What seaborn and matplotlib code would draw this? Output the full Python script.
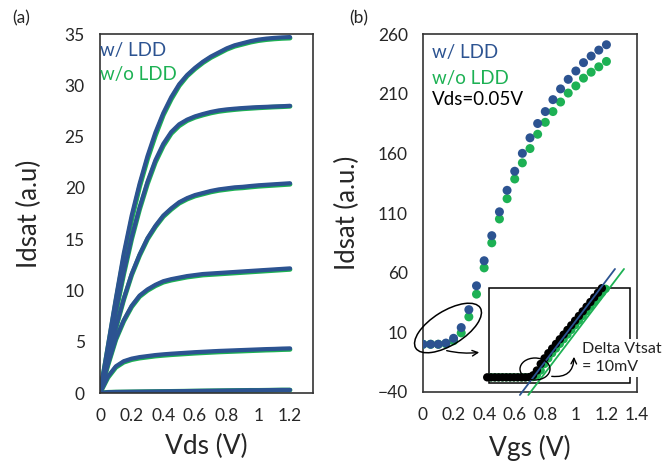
import numpy as np
import pandas as pd
import matplotlib
matplotlib.use("Agg")
import matplotlib.pyplot as plt
import seaborn as sns
from matplotlib.patches import Ellipse, Rectangle
from matplotlib.transforms import IdentityTransform

# ---------------- data: panel (a) ----------------
vds = [0, 0.05, 0.1, 0.15, 0.2, 0.25, 0.3, 0.35, 0.4, 0.45, 0.5, 0.55, 0.6,
       0.65, 0.7, 0.75, 0.8, 0.85, 0.9, 0.95, 1.0, 1.05, 1.1, 1.15, 1.2]

ldd_1 = [0, 4.6, 9.2, 13.6, 17.3, 20.4, 23.1, 25.4, 27.3, 28.85, 30.1, 31.0, 31.7,
         32.3, 32.8, 33.2, 33.6, 33.9, 34.1, 34.3, 34.45, 34.55, 34.62, 34.67, 34.7]
ldd_2 = [0, 4.0, 8.0, 11.8, 15.2, 18.1, 20.6, 22.7, 24.3, 25.45, 26.2, 26.65, 26.97,
         27.2, 27.4, 27.55, 27.65, 27.72, 27.78, 27.83, 27.87, 27.9, 27.93, 27.96, 28.0]
ldd_3 = [0, 3.3, 6.4, 9.2, 11.6, 13.5, 15.1, 16.3, 17.3, 18.0, 18.6, 19.0, 19.3,
         19.5, 19.7, 19.85, 19.95, 20.05, 20.1, 20.18, 20.25, 20.3, 20.35, 20.4, 20.45]
ldd_4 = [0, 2.8, 5.3, 7.1, 8.5, 9.5, 10.1, 10.55, 10.9, 11.1, 11.25, 11.4, 11.5,
         11.6, 11.65, 11.7, 11.75, 11.8, 11.85, 11.9, 11.95, 12.0, 12.05, 12.1, 12.15]
ldd_5 = [0, 1.6, 2.6, 3.1, 3.35, 3.5, 3.6, 3.7, 3.77, 3.83, 3.88, 3.93, 3.98,
         4.02, 4.06, 4.1, 4.13, 4.16, 4.19, 4.22, 4.25, 4.28, 4.3, 4.33, 4.35]
ldd_6 = [0, 0.08, 0.1, 0.11, 0.12, 0.13, 0.14, 0.15, 0.16, 0.17, 0.18, 0.19, 0.2,
         0.21, 0.22, 0.23, 0.24, 0.25, 0.26, 0.27, 0.27, 0.28, 0.29, 0.3, 0.3]

noldd_1 = [0, 4.4, 8.9, 13.2, 16.9, 20.1, 22.8, 25.1, 27.1, 28.65, 29.95, 30.9, 31.6,
           32.2, 32.7, 33.1, 33.5, 33.8, 34.0, 34.2, 34.35, 34.45, 34.52, 34.57, 34.6]
noldd_2 = [0, 3.9, 7.8, 11.6, 15.0, 17.9, 20.4, 22.5, 24.1, 25.3, 26.05, 26.55, 26.87,
           27.1, 27.3, 27.45, 27.55, 27.63, 27.7, 27.75, 27.8, 27.84, 27.88, 27.91, 27.95]
noldd_3 = [0, 3.2, 6.3, 9.1, 11.5, 13.4, 15.0, 16.2, 17.2, 17.9, 18.5, 18.9, 19.2,
           19.4, 19.6, 19.75, 19.85, 19.95, 20.0, 20.08, 20.15, 20.2, 20.25, 20.3, 20.35]
noldd_4 = [0, 2.7, 5.2, 7.0, 8.4, 9.4, 10.0, 10.45, 10.8, 11.0, 11.15, 11.3, 11.4,
           11.5, 11.55, 11.6, 11.65, 11.7, 11.75, 11.8, 11.85, 11.9, 11.95, 12.0, 12.05]
noldd_5 = [0, 1.5, 2.5, 3.0, 3.25, 3.4, 3.5, 3.6, 3.67, 3.73, 3.78, 3.83, 3.88,
           3.92, 3.96, 4.0, 4.03, 4.06, 4.09, 4.12, 4.15, 4.18, 4.2, 4.23, 4.25]
noldd_6 = [0, 0.07, 0.09, 0.1, 0.11, 0.12, 0.13, 0.14, 0.15, 0.16, 0.17, 0.18, 0.19,
           0.2, 0.21, 0.22, 0.23, 0.24, 0.25, 0.26, 0.26, 0.27, 0.28, 0.29, 0.29]

# ---------------- data: panel (b) ----------------
vgs = [0, 0.05, 0.1, 0.15, 0.2, 0.25, 0.3, 0.35, 0.4, 0.45, 0.5, 0.55, 0.6,
       0.65, 0.7, 0.75, 0.8, 0.85, 0.9, 0.95, 1.0, 1.05, 1.1, 1.15, 1.2]
id_ldd = [0, 0, 0, 1, 5, 14, 29, 49, 70, 91, 111, 129, 145, 160, 173, 185,
          195, 205, 214, 222, 229, 236, 241.5, 246.5, 251]
id_noldd = [0, 0, 0, 0.5, 3, 9.5, 23, 42, 64, 85, 105, 122, 138.5, 152, 164,
            176, 186, 195, 203, 210.5, 216.5, 223, 228, 232.5, 237]

# inset (drawn in the coordinates of panel (b))
inset_vgs = [0.42, 0.445, 0.47, 0.495, 0.52, 0.545, 0.57, 0.595, 0.62, 0.645,
             0.67, 0.695, 0.72, 0.745, 0.77, 0.795, 0.82, 0.845, 0.87, 0.895,
             0.92, 0.945, 0.97, 0.995, 1.02, 1.045, 1.07, 1.095, 1.12, 1.145, 1.17]
inset_ldd = [-27.7, -27.7, -27.7, -27.7, -27.7, -27.7, -27.7, -27.7, -27.7, -27.7,
             -27.7, -27.5, -26.0, -22.0, -16.5, -11.8, -7.5, -3.6, 0.3, 4.2,
             8.1, 12.0, 15.9, 19.8, 23.7, 27.6, 31.5, 35.4, 39.3, 43.2, 47.0]
inset_noldd_vgs = [0.445, 0.47, 0.495, 0.52, 0.545, 0.57, 0.595, 0.62, 0.645,
                   0.67, 0.695, 0.72, 0.745, 0.77, 0.795, 0.82, 0.845, 0.87, 0.895,
                   0.92, 0.945, 0.97, 0.995, 1.02, 1.045, 1.07, 1.095, 1.12, 1.145,
                   1.17, 1.195]
inset_noldd = [-27.7, -27.7, -27.7, -27.7, -27.7, -27.7, -27.7, -27.7, -27.7,
               -27.7, -27.7, -27.5, -26.0, -22.0, -16.5, -11.8, -7.5, -3.6, 0.3,
               4.2, 8.1, 12.0, 15.9, 19.8, 23.7, 27.6, 31.5, 35.4, 39.3, 43.2, 46.5]
fit_ldd_x = [0.634, 1.256]
fit_ldd_y = [-42.5, 63.1]
fit_noldd_x = [0.689, 1.315]
fit_noldd_y = [-42.5, 63.1]

BLUE = "#2C5391"
GREEN = "#1DB154"

sns.set_style("white")
plt.rcParams["font.family"] = ["Lato", "DejaVu Sans"]

fig = plt.figure(figsize=(6.65, 4.68), dpi=100)
W, H = 665, 468
axa = fig.add_axes([100 / W, (H - 393) / H, 212.7 / W, 359 / H])
axb = fig.add_axes([423 / W, (H - 392) / H, 214 / W, 358 / H])

# ---- panel (a) ----
rows = []
for k, (b, g) in enumerate(zip([ldd_1, ldd_2, ldd_3, ldd_4, ldd_5, ldd_6],
                               [noldd_1, noldd_2, noldd_3, noldd_4, noldd_5, noldd_6])):
    for v, yb, yg in zip(vds, b, g):
        rows.append({"Vds": v, "Id": yb, "curve": k, "dev": "w/ LDD"})
        rows.append({"Vds": v, "Id": yg, "curve": k, "dev": "w/o LDD"})
dfa = pd.DataFrame(rows)
sns.lineplot(data=dfa[dfa.dev == "w/o LDD"], x="Vds", y="Id", units="curve",
             estimator=None, color=GREEN, linewidth=3.4, ax=axa, legend=False,
             sort=False)
sns.lineplot(data=dfa[dfa.dev == "w/ LDD"], x="Vds", y="Id", units="curve",
             estimator=None, color=BLUE, linewidth=3.0, ax=axa, legend=False,
             sort=False)
axa.set_xlim(0, 1.343)
axa.set_ylim(0, 35)
axa.set_xticks([0, 0.2, 0.4, 0.6, 0.8, 1.0, 1.2])
axa.set_xticklabels(["0", "0.2", "0.4", "0.6", "0.8", "1", "1.2"])
axa.set_yticks(range(0, 36, 5))
axa.set_xlabel("Vds (V)", fontsize=19)
axa.set_ylabel("Idsat (a.u)", fontsize=18.5)
axa.text(0.0, 0.955, "w/ LDD", color=BLUE, fontsize=13.5, transform=axa.transAxes,
         ha="left", va="center")
axa.text(0.0, 0.886, "w/o LDD", color=GREEN, fontsize=13.5, transform=axa.transAxes,
         ha="left", va="center")

# ---- panel (b) ----
dfb = pd.DataFrame({"Vgs": vgs + vgs, "Id": id_noldd + id_ldd,
                    "dev": ["w/o LDD"] * len(vgs) + ["w/ LDD"] * len(vgs)})
sns.scatterplot(data=dfb[dfb.dev == "w/o LDD"], x="Vgs", y="Id", color=GREEN,
                s=42, edgecolor="none", ax=axb, legend=False, zorder=3)
sns.scatterplot(data=dfb[dfb.dev == "w/ LDD"], x="Vgs", y="Id", color=BLUE,
                s=42, edgecolor="none", ax=axb, legend=False, zorder=4)
dfi = pd.DataFrame({"Vgs": inset_noldd_vgs, "Id": inset_noldd})
dfk = pd.DataFrame({"Vgs": inset_vgs, "Id": inset_ldd})
sns.scatterplot(data=dfi, x="Vgs", y="Id", color=GREEN, s=36, edgecolor="none",
                ax=axb, legend=False, zorder=3)
sns.scatterplot(data=dfk, x="Vgs", y="Id", color="black", s=36, edgecolor="none",
                ax=axb, legend=False, zorder=4)
axb.plot(fit_ldd_x, fit_ldd_y, color=BLUE, lw=1.3, clip_on=False, zorder=5)
axb.plot(fit_noldd_x, fit_noldd_y, color=GREEN, lw=1.3, clip_on=False, zorder=5)
axb.add_patch(Rectangle((0.432, -32.5), 1.354 - 0.432, 47.1 + 32.5, fill=False,
                        edgecolor="black", lw=1.1, zorder=2))
axb.set_xlim(0, 1.4)
axb.set_ylim(-40, 260)
axb.set_xticks([0, 0.2, 0.4, 0.6, 0.8, 1.0, 1.2, 1.4])
axb.set_xticklabels(["0", "0.2", "0.4", "0.6", "0.8", "1", "1.2", "1.4"])
axb.set_yticks([-40, 10, 60, 110, 160, 210, 260])
axb.set_xlabel("Vgs (V)", fontsize=19)
axb.set_ylabel("Idsat (a.u.)", fontsize=18.5)
axb.text(0.042, 0.947, "w/ LDD", color=BLUE, fontsize=13.5, transform=axb.transAxes,
         ha="left", va="center")
axb.text(0.042, 0.877, "w/o LDD", color=GREEN, fontsize=13.5, transform=axb.transAxes,
         ha="left", va="center")
axb.text(0.042, 0.816, "Vds=0.05V", color="black", fontsize=13.5,
         transform=axb.transAxes, ha="left", va="center")

for ax in (axa, axb):
    for sp in ax.spines.values():
        sp.set_visible(True)
        sp.set_color("#333333")
        sp.set_linewidth(1.2)
    ax.tick_params(axis="both", length=0, pad=11, labelsize=12.5, labelcolor="#262626")
    ax.xaxis.label.set_va("center")
    ax.yaxis.label.set_va("center")
axa.xaxis.set_label_coords(0.5, -(446.7 - 393) / 359)
axa.yaxis.set_label_coords(-(100 - 29) / 212.7, 0.5)
axb.xaxis.set_label_coords(0.5, -(448 - 392) / 358)
axb.yaxis.set_label_coords(-(423 - 347) / 214, 0.5)

# annotations (figure pixel coordinates)
fig.add_artist(Ellipse((448, H - 328), 76, 34, angle=32, fill=False,
                       edgecolor="black", lw=1.1, transform=IdentityTransform()))
fig.add_artist(Ellipse((535, H - 369), 30, 22, angle=0, fill=False,
                       edgecolor="black", lw=1.0, transform=IdentityTransform(),
                       zorder=6))
axb.annotate("", xy=(482, H - 352), xycoords="figure pixels",
             xytext=(444, H - 350), textcoords="figure pixels",
             arrowprops=dict(arrowstyle="->", lw=1.0, color="black",
                             connectionstyle="arc3,rad=0.1"), annotation_clip=False)
axb.annotate("", xy=(574, H - 354), xycoords="figure pixels",
             xytext=(549, H - 376), textcoords="figure pixels",
             arrowprops=dict(arrowstyle="->", lw=1.0, color="black",
                             connectionstyle="arc3,rad=0.6"), annotation_clip=False)
fig.text(582 / W, (H - 358) / H, "Delta Vtsat\n= 10mV", fontsize=11.5,
         ha="left", va="center", linespacing=1.35, color="#222222",
         bbox=dict(facecolor="white", edgecolor="none", pad=2.5), zorder=10)

fig.text(21 / W, (H - 18.5) / H, "(a)", fontsize=12.5, ha="center", va="center")
fig.text(359 / W, (H - 18) / H, "(b)", fontsize=12.5, ha="center", va="center")

fig.savefig("out.png", dpi=100)
